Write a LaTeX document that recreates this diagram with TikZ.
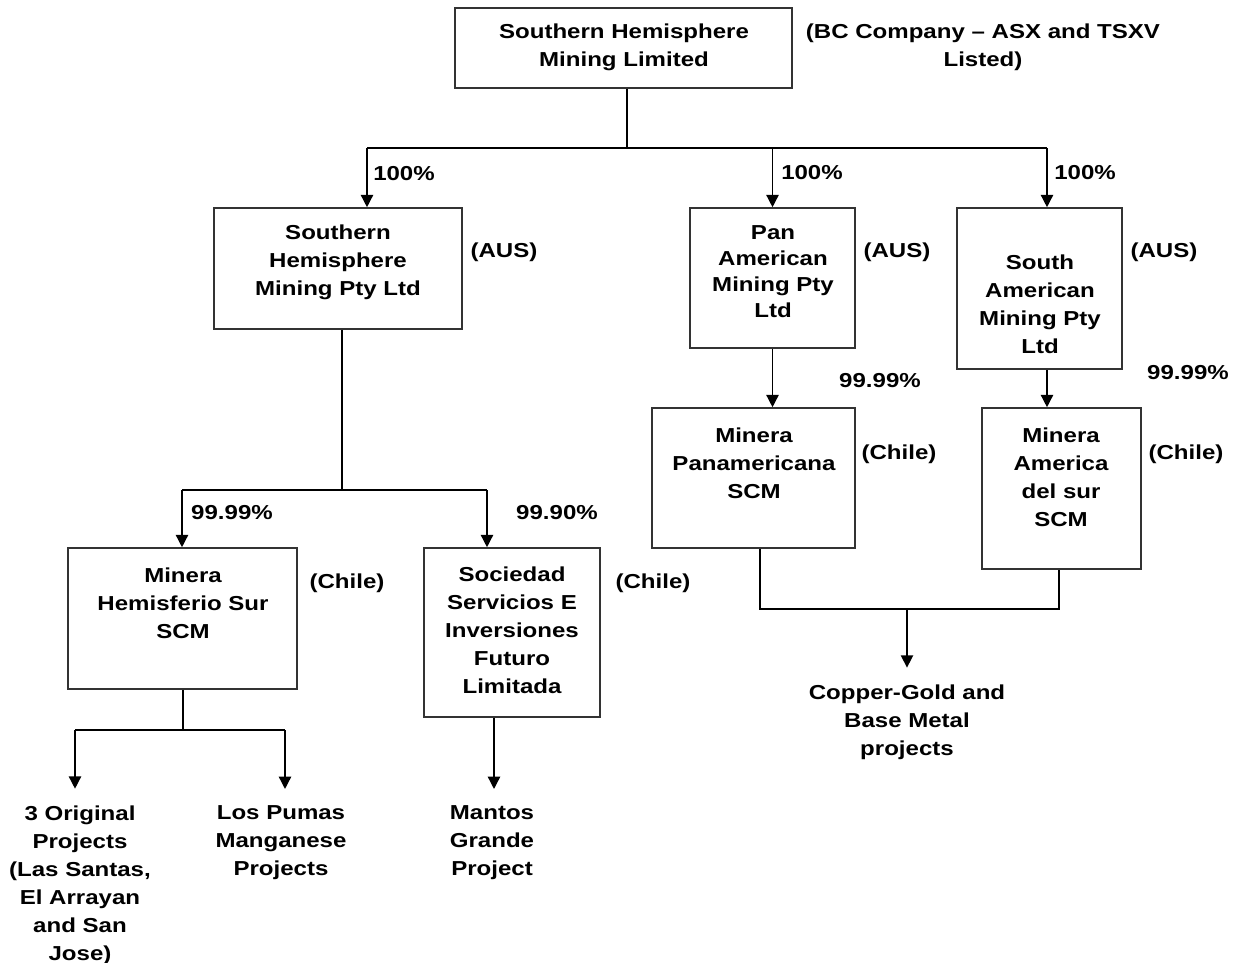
\documentclass[tikz,border=0pt]{standalone}
\usepackage{fontspec}
\setmainfont{Liberation Sans}[FakeStretch=1.19]
\usetikzlibrary{arrows.meta,fit}

\begin{document}
\begin{tikzpicture}[x=0.02cm,y=-0.02cm,font=\bfseries\fontsize{11.5}{15.9}\selectfont]

\tikzstyle{bx} = [rectangle, draw=black!80, line width=0.9pt, inner sep=0pt]
\tikzstyle{txt} = [align=center, inner sep=1pt, yshift=-0.04cm]
\tikzstyle{dest} = [align=center, inner xsep=1pt, inner ysep=9.5pt, yshift=-0.04cm]
\tikzstyle{ln} = [line width=0.8pt]
\tikzstyle{arr} = [line width=0.8pt, -{Triangle[length=7pt,width=7pt]}]

\useasboundingbox (0,0) rectangle (1237,963);

% companies
\node (shml) [bx, fit={(455,8) (792,88)}] {};
\node (shmlT) [txt] at (624,45) {Southern Hemisphere\\Mining Limited};
\node (bc) [txt] at (983,45) {(BC Company – ASX and TSXV\\Listed)};

\node (shmpty) [bx, fit={(214,208) (462,329)}] {};
\node (shmptyT) [txt] at (338,260) {Southern\\Hemisphere\\Mining Pty Ltd};
\node (aus1) [txt] at (504,250) {(AUS)};

\node (pan) [bx, fit={(690,208) (855,348)}] {};
\node (panT) [txt, font=\bfseries\fontsize{11.5}{14.8}\selectfont] at (773,270) {Pan\\American\\Mining Pty\\Ltd};
\node (aus2) [txt] at (897,250) {(AUS)};

\node (soam) [bx, fit={(957,208) (1122,369)}] {};
\node (soamT) [txt] at (1040,302) {South\\American\\Mining Pty\\Ltd};
\node (aus3) [txt] at (1164,250) {(AUS)};

\node (minpan) [bx, fit={(652,408) (855,548)}] {};
\node (minpanT) [txt] at (754,461) {Minera\\Panamericana\\SCM};
\node (chl3) [txt] at (899,452) {(Chile)};

\node (minam) [bx, fit={(982,408) (1141,569)}] {};
\node (minamT) [txt] at (1061,475) {Minera\\America\\del sur\\SCM};
\node (chl4) [txt] at (1186,452) {(Chile)};

\node (mhs) [bx, fit={(68,548) (297,689)}] {};
\node (mhsT) [txt] at (183,601) {Minera\\Hemisferio Sur\\SCM};
\node (chl1) [txt] at (347,581) {(Chile)};

\node (soc) [bx, fit={(424,548) (600,717)}] {};
\node (socT) [txt] at (512,628) {Sociedad\\Servicios E\\Inversiones\\Futuro\\Limitada};
\node (chl2) [txt] at (653,581) {(Chile)};

% projects
\node (orig) [dest] at (80,883) {3 Original\\Projects\\(Las Santas,\\El Arrayan\\and San\\Jose)};
\node (pumas) [dest] at (281,841) {Los Pumas\\Manganese\\Projects};
\node (mantos) [dest] at (492,841) {Mantos\\Grande\\Project};
\node (copper) [dest] at (907,720) {Copper-Gold and\\Base Metal\\projects};

% percentages
\node (p1) [txt] at (404,172) {100\%};
\node (p2) [txt] at (812,171) {100\%};
\node (p3) [txt] at (1085,171) {100\%};
\node (p4) [txt] at (880,379) {99.99\%};
\node (p5) [txt] at (1188,371) {99.99\%};
\node (p6) [txt] at (232,511) {99.99\%};
\node (p7) [txt] at (557,511) {99.90\%};

% ownership lines
\coordinate (j0) at (627,148);
\coordinate (j1) at (367,148);
\coordinate (j3) at (1047,148);
\draw[ln] (shml.south -| j0) -- (j0);
\draw[ln] (j1) -- (j3);
\draw[arr] (j1) -- (j1 |- shmpty.north);
\draw[arr] (pan.north |- j0) -- (pan.north);
\draw[arr] (j3) -- (j3 |- soam.north);

\draw[arr] (pan.south) -- (pan.south |- minpan.north);
\draw[arr] (soam.south -| j3) -- (j3 |- minam.north);

\coordinate (m0) at (907,609);
\coordinate (m1) at (760,609);
\coordinate (m2) at (1059,609);
\draw[ln] (minpan.south -| m1) -- (m1) -- (m2) -- (minam.south -| m2);
\draw[arr] (m0) -- (copper.north);

\coordinate (n0) at (342,490);
\coordinate (n1) at (182,490);
\coordinate (n2) at (487,490);
\draw[ln] (shmpty.south -| n0) -- (n0);
\draw[ln] (n1) -- (n2);
\draw[arr] (n1) -- (n1 |- mhs.north);
\draw[arr] (n2) -- (n2 |- soc.north);

\coordinate (q0) at (183,730);
\coordinate (q1) at (75,730);
\coordinate (q2) at (285,730);
\coordinate (q3) at (494,730);
\draw[ln] (mhs.south -| q0) -- (q0);
\draw[ln] (q1) -- (q2);
\draw[arr] (q1) -- (q1 |- orig.north);
\draw[arr] (q2) -- (q2 |- pumas.north);
\draw[arr] (soc.south -| q3) -- (q3 |- mantos.north);
\end{tikzpicture}
\end{document}
